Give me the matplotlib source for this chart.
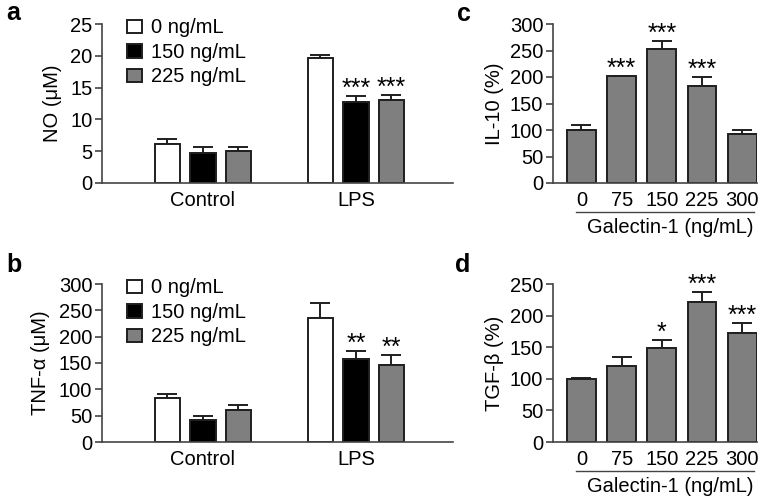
import numpy as np
import matplotlib
matplotlib.use("Agg")
import matplotlib.pyplot as plt

plt.rcParams['font.family'] = ['Liberation Sans', 'DejaVu Sans']
plt.rcParams['font.size'] = 14.5

# ---- data ----
groups = ['Control', 'LPS']
dose_labels = ['0 ng/mL', '150 ng/mL', '225 ng/mL']
dose_colors = ['white', 'black', '#7f7f7f']

no_mean = [[6.2, 19.7], [4.7, 12.8], [5.1, 13.1]]
no_err = [[0.65, 0.5], [1.0, 0.9], [0.6, 0.8]]
no_stars = [['', ''], ['', '***'], ['', '***']]

tnf_mean = [[83, 235], [41, 157], [61, 146]]
tnf_err = [[9, 28], [9, 15], [9, 19]]
tnf_stars = [['', ''], ['', '**'], ['', '**']]

galectin = ['0', '75', '150', '225', '300']
il10_mean = [100, 201, 253, 183, 92]
il10_err = [9, 1, 15, 17, 8]
il10_stars = ['', '***', '***', '***', '']

tgfb_mean = [100, 121, 149, 221, 173]
tgfb_err = [1, 13, 13, 16, 15]
tgfb_stars = ['', '', '*', '***', '***']

EDGE = '#1f1f1f'
AXC = '#444444'
FS = 14.5


def style_ax(ax):
    for s in ['top', 'right']:
        ax.spines[s].set_visible(False)
    for s in ['left', 'bottom']:
        ax.spines[s].set_color(AXC)
        ax.spines[s].set_linewidth(1.2)
    ax.tick_params(axis='y', length=5, width=1.2, color=AXC, pad=2, labelsize=FS)
    ax.tick_params(axis='x', length=0, pad=6, labelsize=FS)


def put_star(ax, x, top, s):
    # stars sit just above the error bar cap
    if s:
        ax.annotate(s, (x, top), xytext=(0, -3.5), textcoords='offset points',
                    ha='center', va='bottom', fontsize=18)


def grouped(ax, means, errs, stars, ylim, yticks, ylabel, legend=True):
    step = 0.232
    width = 0.167
    x = np.arange(len(groups))
    handles = []
    for i in range(3):
        xi = x + (i - 1) * step
        b = ax.bar(xi, means[i], width, color=dose_colors[i], edgecolor=EDGE, linewidth=1.4, zorder=2)
        handles.append(b)
        ax.errorbar(xi, means[i], yerr=[np.zeros(len(groups)), errs[i]], fmt='none',
                    ecolor=EDGE, elinewidth=1.4, capsize=7, capthick=1.4, zorder=1)
        for j in range(len(groups)):
            put_star(ax, xi[j], means[i][j] + errs[i][j], stars[i][j])
    ax.set_xlim(-0.66, 1.634)
    ax.set_ylim(*ylim)
    ax.set_yticks(yticks)
    ax.set_xticks(x)
    ax.set_xticklabels(groups)
    ax.set_ylabel(ylabel, fontsize=FS, labelpad=6)
    style_ax(ax)
    if legend:
        ax.legend(handles, dose_labels, loc='upper left', bbox_to_anchor=(0.072, 1.035),
                  frameon=False, handlelength=0.75, handleheight=0.65, handletextpad=0.45,
                  labelspacing=0.27, borderpad=0, borderaxespad=0, fontsize=FS)


def dose_plot(ax, means, errs, stars, ylim, yticks, ylabel):
    x = np.arange(len(galectin))
    ax.bar(x, means, 0.72, color='#7f7f7f', edgecolor=EDGE, linewidth=1.4, zorder=2)
    ax.errorbar(x, means, yerr=[np.zeros(len(x)), errs], fmt='none',
                ecolor=EDGE, elinewidth=1.4, capsize=7, capthick=1.4, zorder=1)
    for j in range(len(x)):
        put_star(ax, x[j], means[j] + errs[j], stars[j])
    ax.set_xlim(-0.71, 4.37)
    ax.set_ylim(*ylim)
    ax.set_yticks(yticks)
    ax.set_xticks(x)
    ax.set_xticklabels(galectin)
    ax.set_ylabel(ylabel, fontsize=FS, labelpad=4)
    style_ax(ax)
    ax.plot([0.111, 0.985], [-0.182, -0.182], transform=ax.transAxes, clip_on=False,
            color=AXC, lw=1)
    ax.text(0.574, -0.28, 'Galectin-1 (ng/mL)', transform=ax.transAxes,
            ha='center', va='center', fontsize=FS)


fig = plt.figure(figsize=(7.68, 5), dpi=100)
ax_a = fig.add_axes([0.1328, 0.634, 0.457, 0.318])
ax_b = fig.add_axes([0.1328, 0.116, 0.457, 0.316])
ax_c = fig.add_axes([0.720, 0.634, 0.2657, 0.318])
ax_d = fig.add_axes([0.720, 0.116, 0.2657, 0.316])

grouped(ax_a, no_mean, no_err, no_stars, (0, 25), [0, 5, 10, 15, 20, 25], 'NO (μM)')
grouped(ax_b, tnf_mean, tnf_err, tnf_stars, (0, 300), [0, 50, 100, 150, 200, 250, 300], 'TNF-α (μM)')
dose_plot(ax_c, il10_mean, il10_err, il10_stars, (0, 300), [0, 50, 100, 150, 200, 250, 300], 'IL-10 (%)')
dose_plot(ax_d, tgfb_mean, tgfb_err, tgfb_stars, (0, 250), [0, 50, 100, 150, 200, 250], 'TGF-β (%)')

for lab, xx, yy in [('a', 0.008, 0.96), ('b', 0.008, 0.457), ('c', 0.5946, 0.958), ('d', 0.5924, 0.457)]:
    fig.text(xx, yy, lab, fontsize=18, fontweight='bold', va='baseline', ha='left')

fig.savefig('out.png', dpi=100)
